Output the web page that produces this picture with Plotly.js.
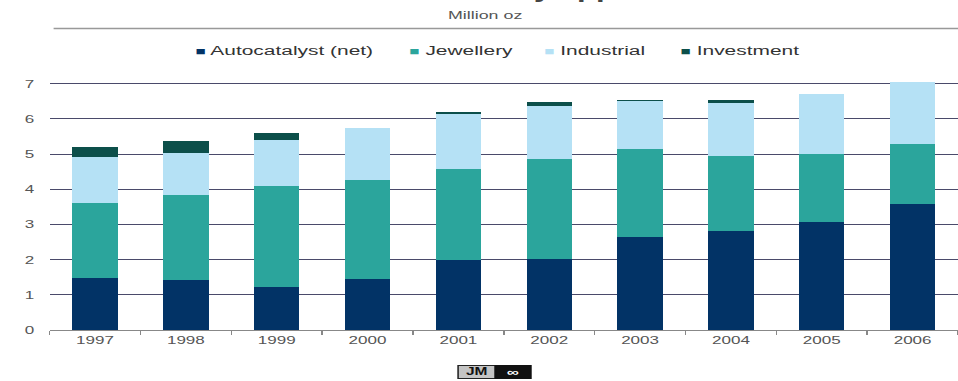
<!DOCTYPE html>
<html>
<head>
<meta charset="utf-8">
<script src="https://cdn.plot.ly/plotly-3.0.1.min.js"></script>
<style>
html,body{margin:0;padding:0;background:#fff;overflow:hidden;}
#chart{width:618px;height:381px;transform:scaleX(1.5502);transform-origin:0 0;}
</style>
</head>
<body>
<div id="chart"></div>
<script>
var years = ['1997','1998','1999','2000','2001','2002','2003','2004','2005','2006'];
var autocatalyst = [1.47, 1.42, 1.21, 1.44, 1.99, 2.03, 2.65, 2.82, 3.06, 3.57];
var jewellery    = [2.15, 2.41, 2.88, 2.82, 2.60, 2.82, 2.49, 2.13, 1.95, 1.73];
var industrial   = [1.30, 1.21, 1.32, 1.49, 1.54, 1.53, 1.37, 1.51, 1.69, 1.75];
var investment   = [0.28, 0.32, 0.20, 0.00, 0.08, 0.10, 0.04, 0.09, 0.01, 0.00];
var seriesNames  = ['Autocatalyst (net)', 'Jewellery', 'Industrial', 'Investment'];
var seriesColors = ['#023366', '#2ba59c', '#b5e1f5', '#0c4f4a'];
var titleText = 'Platinum demand by application';
var unitText = 'Million oz';
var logoText = 'JM';

var values = [autocatalyst, jewellery, industrial, investment];
var traces = values.map(function(v, i){
  return {type:'bar', x: years, y: v, name: seriesNames[i],
          marker:{color: seriesColors[i], line:{width:0}}, hoverinfo:'none', showlegend: false};
});

// the chart is drawn narrow and stretched horizontally, like the reference
var S = 958 / 618;
var W = 618, H = 381, mL = 49 / S, mR = 0, mT = 80.5, mB = 51;
var plotH = H - mT - mB, plotW = W - mL - mR;
function py(pix){ return (H - mB - pix) / plotH; }
function px(pix){ return (pix / S - mL) / plotW; }

var font = 'Liberation Sans, Arial, sans-serif';

var annotations = [
  {xref: 'paper', yref: 'paper', x: px(486), y: py(-10), xanchor: 'center', yanchor: 'middle',
   text: '<b>' + titleText + '</b>', showarrow: false,
   font: {family: font, size: 20, color: '#444'}},
  {xref: 'paper', yref: 'paper', x: px(485), y: py(14), xanchor: 'center', yanchor: 'middle',
   text: unitText, showarrow: false, font: {family: font, size: 11.5, color: '#555'}},
  {xref: 'paper', yref: 'paper', x: px(476.5), y: py(372), xanchor: 'center', yanchor: 'middle',
   text: '<b>' + logoText + '</b>', showarrow: false, width: 23, height: 12,
   bgcolor: '#c4c4c4', bordercolor: '#222', borderwidth: 1, borderpad: 0,
   font: {family: font, size: 10, color: '#111'}},
  {xref: 'paper', yref: 'paper', x: px(512.5), y: py(372), xanchor: 'center', yanchor: 'middle',
   text: '<b>∞</b>', showarrow: false, width: 22, height: 12,
   bgcolor: '#111', bordercolor: '#111', borderwidth: 1, borderpad: 0,
   font: {family: font, size: 11, color: '#fff'}}
];

// legend entries (square + name), one per series
var legendLeft = [192, 406, 541, 678];
seriesNames.forEach(function(n, i){
  annotations.push({xref: 'paper', yref: 'paper', x: px(legendLeft[i]), y: py(50),
    xanchor: 'left', yanchor: 'middle', showarrow: false,
    text: '<span style="color:' + seriesColors[i] + ';font-size:11px">■</span> ' + n,
    font: {family: font, size: 13.5, color: '#333'}});
});

var layout = {
  width: W, height: H,
  margin: {l: mL, r: mR, t: mT, b: mB, pad: 0},
  paper_bgcolor: '#fff', plot_bgcolor: '#fff',
  barmode: 'stack', bargap: 0.5,
  font: {family: font, size: 11, color: '#444'},
  showlegend: false,
  xaxis: {type: 'category', range: [-0.5, 9.5], tickson: 'boundaries', ticks: 'outside',
          ticklen: 4, tickcolor: '#888', showline: true, linecolor: '#888', linewidth: 1,
          showgrid: false, zeroline: false, fixedrange: true,
          tickfont: {family: font, size: 11, color: '#555'}},
  yaxis: {range: [0, 7.08], dtick: 1, tick0: 0, showgrid: true, gridcolor: '#4a4a6a', gridwidth: 1,
          zeroline: false, showline: false, ticks: '', ticklabelstandoff: 9, fixedrange: true,
          tickfont: {family: font, size: 11, color: '#555'}},
  shapes: [
    {type: 'line', xref: 'paper', yref: 'paper', x0: px(53), x1: 1, y0: py(28), y1: py(28),
     line: {color: '#999', width: 1.5}}
  ],
  annotations: annotations
};

Plotly.newPlot('chart', traces, layout, {displayModeBar: false, staticPlot: true});
</script>
</body>
</html>
